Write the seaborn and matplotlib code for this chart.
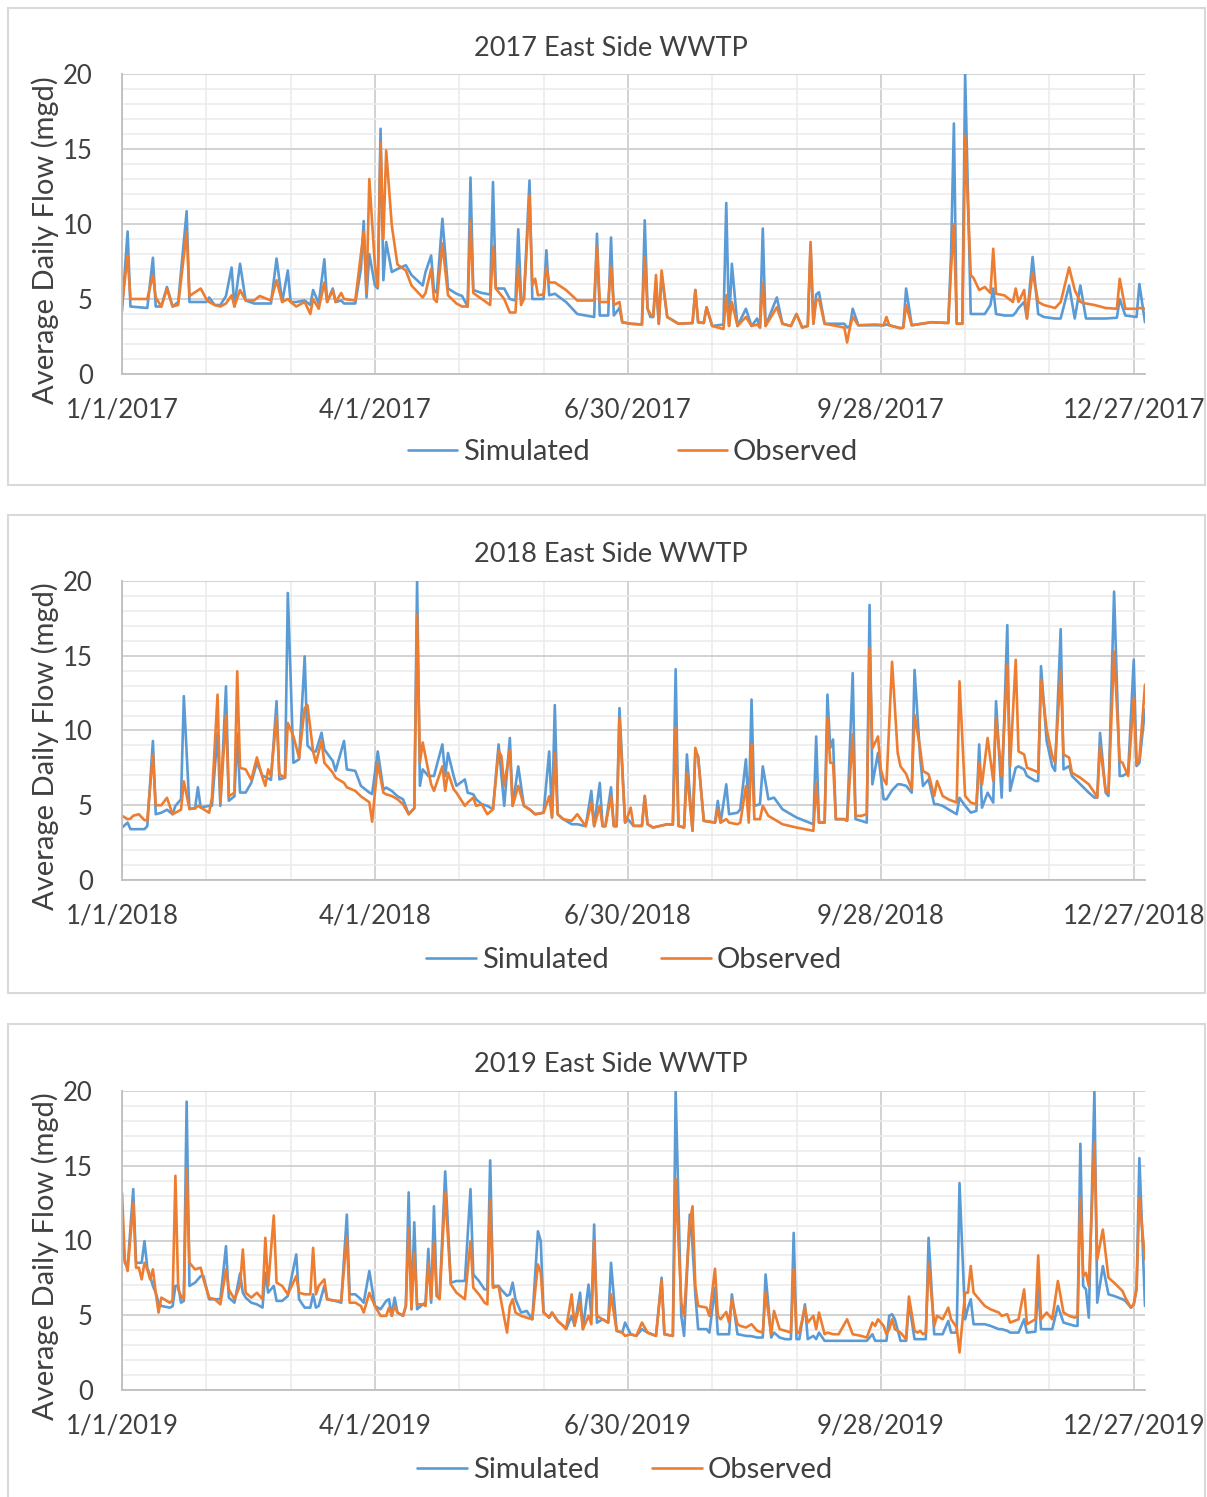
import numpy as np
import pandas as pd
import matplotlib
matplotlib.use("Agg")
import matplotlib.pyplot as plt
import seaborn as sns
from matplotlib.patches import Rectangle

# ---------------- data (day-of-year, simulated, observed) ----------------
years = [2017, 2018, 2019]
series_names = ["Simulated", "Observed"]
tick_days = [0, 90, 180, 270, 360]
tick_labels = {
    2017: ["1/1/2017", "4/1/2017", "6/30/2017", "9/28/2017", "12/27/2017"],
    2018: ["1/1/2018", "4/1/2018", "6/30/2018", "9/28/2018", "12/27/2018"],
    2019: ["1/1/2019", "4/1/2019", "6/30/2019", "9/28/2019", "12/27/2019"],
}
y_ticks = [0, 5, 10, 15, 20]

days_2017 = [0, 2, 3, 9, 11, 12, 14, 16, 18, 20, 23, 24, 28, 30, 31, 33, 35, 37, 39, 40,
             42, 44, 47, 49, 53, 55, 57, 59, 60, 62, 65, 67, 68, 70, 72, 73, 75, 76, 78, 79,
             83, 85, 86, 87, 88, 90, 91, 92, 93, 94, 96, 98, 101, 103, 107, 108, 110, 111, 112, 114,
             116, 119, 121, 123, 124, 125, 128, 131, 132, 133, 136, 138, 140, 141, 142, 143, 145, 146, 147, 148,
             150, 151, 152, 154, 158, 162, 168, 169, 170, 173, 174, 175, 177, 178, 181, 185, 186, 187, 188, 189,
             190, 191, 192, 194, 198, 203, 204, 205, 207, 208, 210, 214, 215, 216, 217, 219, 222, 224, 226, 227,
             228, 229, 233, 235, 238, 240, 242, 244, 245, 246, 247, 248, 250, 257, 258, 259, 260, 262, 268, 271,
             272, 273, 277, 278, 279, 281, 288, 294, 295, 296, 297, 299, 300, 302, 303, 305, 307, 309, 310, 311,
             314, 317, 318, 319, 321, 322, 324, 326, 328, 332, 334, 337, 339, 341, 343, 346, 350, 354, 355, 357,
             361, 362, 364]
sim_2017 = [4.2, 9.5, 4.5, 4.4, 7.75, 4.5, 4.5, 5.8, 4.5, 4.8, 10.85, 4.8, 4.8, 4.8, 5.1, 4.6, 4.6, 5.2, 7.1, 4.5,
            7.35, 4.9, 4.7, 4.7, 4.7, 7.7, 4.8, 6.9, 4.8, 4.8, 4.9, 4.6, 5.6, 4.7, 7.65, 4.8, 5.7, 4.8, 4.9, 4.7,
            4.7, 7.0, 10.2, 5.1, 8.0, 5.9, 5.7, 16.35, 6.25, 8.8, 6.8, 7.0, 7.25, 6.6, 5.9, 6.8, 7.9, 5.6, 5.4, 10.35,
            5.7, 5.35, 5.2, 4.5, 13.1, 5.6, 5.4, 5.3, 12.8, 5.7, 5.7, 5.0, 4.9, 9.65, 5.0, 5.0, 12.9, 5.0, 5.0, 5.0,
            5.0, 8.25, 5.25, 5.35, 4.8, 4.0, 3.8, 9.35, 3.9, 3.9, 9.1, 3.9, 4.4, 3.45, 3.35, 3.3, 10.25, 4.35, 3.8, 3.8,
            6.1, 3.35, 6.6, 3.8, 3.35, 3.4, 5.6, 3.45, 3.4, 4.45, 3.2, 3.3, 11.4, 3.2, 7.35, 3.2, 4.35, 3.2, 3.7, 3.1,
            9.7, 3.2, 5.1, 3.35, 3.2, 4.0, 3.1, 3.2, 8.6, 3.35, 5.3, 5.45, 3.35, 3.35, 3.1, 3.2, 4.35, 3.25, 3.25, 3.25,
            3.3, 3.25, 3.05, 3.1, 5.7, 3.25, 3.45, 3.4, 8.0, 16.7, 3.35, 3.35, 20.0, 4.0, 4.0, 4.0, 4.0, 4.6, 5.7, 4.0,
            3.9, 3.9, 4.1, 4.4, 4.8, 3.7, 7.8, 4.0, 3.8, 3.7, 3.7, 5.9, 3.7, 5.9, 3.7, 3.7, 3.7, 3.75, 5.0, 3.9,
            3.8, 6.0, 3.45]
obs_2017 = [4.6, 7.9, 5.0, 5.0, 6.6, 5.1, 4.5, 5.7, 4.5, 4.6, 9.5, 5.2, 5.7, 5.0, 4.8, 4.6, 4.5, 4.7, 5.25, 4.5,
            5.6, 4.9, 4.9, 5.2, 4.9, 6.25, 4.8, 5.0, 4.8, 4.5, 4.8, 4.0, 5.0, 4.35, 6.1, 4.8, 5.6, 4.8, 5.4, 5.0,
            4.9, 8.0, 9.5, 5.4, 13.0, 7.2, 5.8, 15.4, 9.0, 14.9, 9.9, 7.3, 6.9, 5.9, 5.1, 5.4, 7.0, 5.0, 4.8, 8.7,
            5.25, 4.7, 4.5, 4.5, 10.2, 5.4, 5.0, 4.6, 8.5, 5.7, 5.0, 4.1, 4.1, 7.2, 4.6, 5.0, 11.9, 5.9, 6.35, 5.25,
            5.3, 7.1, 6.1, 6.1, 5.6, 4.9, 4.9, 8.5, 4.8, 4.8, 7.2, 4.6, 4.8, 3.45, 3.35, 3.3, 7.8, 4.35, 4.0, 3.8,
            6.6, 3.35, 6.9, 3.8, 3.35, 3.4, 5.6, 3.45, 3.4, 4.45, 3.2, 3.0, 5.25, 3.2, 4.8, 3.2, 3.8, 3.2, 3.3, 3.1,
            6.1, 3.2, 4.45, 3.35, 3.2, 4.0, 3.1, 3.2, 8.8, 3.35, 4.9, 5.0, 3.35, 3.1, 2.1, 3.1, 3.8, 3.25, 3.3, 3.25,
            3.8, 3.25, 3.05, 3.1, 4.6, 3.25, 3.45, 3.4, 7.0, 10.0, 3.35, 3.35, 15.9, 6.6, 6.4, 5.6, 5.8, 5.4, 8.35, 5.35,
            5.24, 4.8, 5.7, 4.8, 5.6, 3.7, 6.8, 4.8, 4.6, 4.4, 4.8, 7.1, 5.6, 4.8, 4.7, 4.6, 4.4, 4.35, 6.35, 4.35,
            4.35, 4.4, 4.35]

days_2018 = [0, 2, 3, 4, 6, 8, 9, 11, 12, 14, 16, 18, 19, 21, 22, 24, 26, 27, 28, 31,
             32, 34, 35, 37, 38, 40, 41, 42, 44, 46, 48, 50, 51, 52, 53, 55, 56, 58, 59, 61,
             63, 65, 66, 68, 69, 71, 72, 75, 76, 79, 80, 83, 85, 88, 89, 91, 93, 94, 96, 98,
             100, 102, 104, 105, 106, 107, 109, 110, 111, 114, 115, 116, 118, 119, 122, 123, 125, 126, 128, 130,
             132, 134, 135, 136, 138, 139, 141, 143, 145, 147, 150, 152, 153, 154, 155, 157, 160, 162, 165, 167,
             168, 170, 171, 172, 174, 175, 176, 177, 179, 180, 181, 182, 185, 186, 187, 189, 194, 196, 197, 198,
             200, 201, 203, 204, 205, 207, 211, 212, 213, 215, 216, 219, 220, 222, 223, 224, 225, 227, 228, 230,
             232, 235, 240, 246, 247, 248, 250, 251, 252, 253, 254, 257, 258, 260, 261, 263, 265, 266, 267, 269,
             270, 271, 272, 274, 276, 277, 279, 281, 282, 284, 285, 287, 289, 290, 292, 294, 297, 298, 300, 302,
             304, 305, 306, 308, 310, 311, 313, 315, 316, 318, 319, 321, 322, 325, 326, 327, 329, 331, 332, 334,
             335, 337, 338, 341, 344, 346, 347, 348, 350, 351, 353, 355, 356, 358, 360, 361, 362, 364]
sim_2018 = [3.5, 3.84, 3.4, 3.4, 3.4, 3.4, 3.6, 9.3, 4.4, 4.5, 4.7, 4.4, 4.96, 5.4, 12.3, 4.75, 4.8, 6.2, 4.85, 4.96,
            4.96, 9.85, 4.96, 12.96, 5.3, 5.6, 9.8, 5.85, 5.85, 6.5, 7.85, 6.96, 6.9, 6.8, 6.7, 11.96, 6.73, 6.84, 19.2, 7.84,
            8.07, 14.96, 9.0, 8.6, 8.6, 9.85, 8.73, 7.96, 7.3, 9.3, 7.4, 7.3, 6.3, 5.85, 5.75, 8.6, 6.05, 6.18, 5.96, 5.6,
            5.4, 4.4, 4.8, 20.0, 6.3, 7.4, 6.96, 6.96, 6.96, 9.07, 6.96, 8.5, 6.96, 6.3, 6.73, 5.84, 5.73, 5.4, 5.07, 4.96,
            4.73, 9.07, 7.0, 4.96, 9.5, 4.96, 7.6, 4.96, 4.73, 4.4, 4.5, 8.6, 4.18, 11.7, 4.4, 4.07, 3.73, 3.73, 3.6, 5.96,
            3.6, 6.5, 3.6, 3.6, 6.2, 3.6, 3.6, 11.5, 3.84, 4.07, 3.84, 3.62, 3.62, 5.62, 3.73, 3.51, 3.73, 3.7, 14.1, 3.62,
            3.51, 8.4, 3.29, 8.5, 8.3, 3.96, 3.84, 5.29, 3.84, 6.4, 4.4, 4.5, 4.73, 8.07, 4.5, 12.07, 4.96, 5.07, 7.6, 5.4,
            5.51, 4.73, 4.18, 3.73, 9.6, 3.84, 3.84, 12.4, 8.84, 9.4, 4.07, 4.07, 3.96, 13.84, 4.07, 3.96, 3.84, 18.4, 6.4, 8.5,
            6.96, 5.4, 5.4, 6.0, 6.4, 6.4, 6.3, 5.84, 14.05, 8.2, 6.29, 6.73, 5.07, 5.07, 4.96, 4.73, 4.4, 5.5, 4.96, 4.51,
            4.62, 9.07, 4.84, 5.84, 5.18, 11.96, 5.51, 17.05, 5.96, 7.5, 7.6, 7.4, 6.96, 6.62, 6.62, 14.3, 9.3, 7.6, 7.3, 16.78,
            7.4, 7.62, 6.96, 6.4, 5.84, 5.51, 5.51, 9.84, 5.84, 5.62, 19.29, 6.96, 6.96, 7.18, 14.73, 7.62, 7.84, 11.4]
obs_2018 = [4.3, 4.07, 4.1, 4.3, 4.4, 4.0, 4.0, 8.4, 5.0, 5.0, 5.5, 4.4, 4.5, 4.7, 6.6, 4.75, 4.8, 4.96, 4.85, 4.5,
            5.5, 12.4, 5.2, 11.0, 5.6, 5.84, 13.96, 7.5, 7.4, 6.7, 8.2, 6.84, 6.3, 7.4, 6.96, 10.96, 7.07, 6.84, 10.5, 9.62,
            8.18, 11.5, 11.7, 8.6, 7.84, 9.3, 7.84, 7.18, 6.84, 6.5, 6.2, 5.96, 5.6, 5.2, 3.9, 7.8, 5.84, 5.73, 5.62, 5.4,
            5.07, 4.4, 4.8, 17.73, 7.84, 9.2, 7.3, 6.4, 5.96, 7.6, 5.96, 7.18, 6.07, 5.84, 4.96, 5.18, 5.51, 4.96, 5.07, 4.4,
            4.73, 8.62, 8.3, 6.3, 8.7, 4.96, 6.3, 4.96, 4.73, 4.4, 4.5, 5.6, 4.18, 8.5, 4.4, 4.07, 3.96, 4.4, 3.6, 5.18,
            3.6, 4.96, 3.6, 3.6, 5.6, 3.6, 3.6, 10.84, 3.84, 4.29, 4.84, 3.62, 3.62, 5.62, 3.73, 3.51, 3.73, 3.7, 10.2, 3.62,
            3.51, 7.2, 3.29, 8.84, 8.18, 3.96, 3.84, 4.73, 3.84, 4.07, 3.84, 3.73, 3.84, 6.29, 3.84, 9.07, 4.07, 4.07, 4.96, 4.29,
            4.07, 3.73, 3.51, 3.29, 6.5, 3.84, 3.84, 10.84, 7.84, 7.84, 4.07, 4.07, 3.96, 9.75, 4.29, 4.29, 4.4, 15.5, 8.8, 9.6,
            7.4, 6.73, 6.4, 14.6, 8.5, 7.6, 7.1, 6.07, 11.05, 8.8, 7.29, 7.07, 5.62, 6.62, 5.62, 5.4, 5.18, 13.29, 5.62, 5.18,
            5.07, 7.84, 6.4, 9.5, 6.62, 10.84, 6.96, 14.4, 7.6, 14.73, 8.6, 8.4, 7.51, 7.29, 7.18, 13.4, 10.1, 8.29, 7.84, 13.96,
            8.4, 8.18, 7.18, 6.84, 6.4, 5.84, 5.51, 8.96, 5.96, 5.84, 15.29, 7.96, 7.84, 6.96, 12.18, 7.73, 8.07, 13.07]

days_2019 = [0, 1, 2, 4, 5, 6, 7, 8, 9, 10, 11, 12, 13, 14, 17, 18, 19, 20, 21, 22,
             23, 24, 26, 28, 29, 31, 33, 35, 37, 38, 40, 42, 43, 44, 46, 48, 50, 51, 52, 54,
             55, 57, 59, 62, 63, 65, 67, 68, 69, 70, 72, 73, 76, 78, 80, 81, 83, 85, 86, 88,
             90, 92, 94, 95, 96, 97, 98, 100, 101, 102, 103, 104, 105, 107, 108, 109, 110, 111, 112, 113,
             115, 117, 119, 122, 124, 125, 127, 129, 130, 131, 132, 134, 135, 137, 138, 139, 140, 142, 144, 146,
             148, 149, 150, 152, 153, 155, 157, 158, 160, 161, 163, 164, 166, 167, 168, 169, 171, 173, 174, 176,
             178, 179, 181, 183, 185, 187, 190, 192, 193, 196, 197, 199, 200, 202, 203, 204, 205, 208, 209, 211,
             212, 213, 215, 216, 217, 219, 220, 222, 224, 226, 228, 229, 231, 232, 234, 236, 238, 239, 240, 241,
             243, 244, 246, 247, 248, 250, 251, 253, 255, 258, 260, 263, 265, 267, 268, 269, 271, 272, 273, 274,
             275, 277, 279, 280, 282, 283, 284, 285, 286, 287, 289, 290, 292, 294, 295, 297, 298, 300, 301, 302,
             303, 305, 307, 309, 312, 313, 315, 316, 319, 321, 322, 325, 326, 327, 329, 331, 333, 335, 337, 339,
             340, 341, 342, 343, 344, 346, 347, 349, 351, 353, 356, 357, 359, 360, 361, 362, 364]
sim_2019 = [10.96, 8.51, 8.2, 13.44, 8.51, 8.51, 8.51, 9.96, 8.18, 7.62, 6.96, 6.51, 5.84, 5.62, 5.51, 5.6, 6.96, 6.96, 5.84, 5.96,
            19.29, 6.96, 7.18, 7.62, 7.62, 6.07, 6.07, 6.07, 9.62, 6.18, 5.84, 7.8, 6.5, 6.18, 5.84, 5.73, 5.51, 7.84, 6.51, 6.96,
            5.96, 5.96, 6.29, 9.07, 6.07, 5.51, 5.51, 6.4, 5.51, 5.62, 6.96, 6.07, 5.96, 5.84, 11.73, 6.4, 6.4, 6.07, 5.84, 7.96,
            5.62, 5.4, 5.96, 6.07, 4.96, 6.18, 5.18, 4.96, 5.62, 13.22, 5.4, 11.22, 5.4, 5.73, 5.84, 9.44, 5.84, 12.29, 6.29, 6.18,
            14.62, 7.18, 7.29, 7.29, 13.44, 7.73, 7.29, 6.73, 6.73, 15.36, 6.96, 6.96, 6.7, 6.3, 6.4, 7.18, 6.07, 5.18, 5.29, 4.73,
            10.62, 9.96, 5.18, 4.84, 5.18, 4.62, 4.29, 4.07, 4.96, 4.3, 6.51, 4.07, 7.05, 4.9, 11.07, 4.5, 4.73, 4.51, 8.51, 3.96,
            3.84, 4.51, 3.73, 3.62, 4.07, 3.84, 3.62, 7.51, 3.73, 3.62, 20.0, 4.96, 3.62, 11.73, 9.62, 6.4, 4.07, 4.07, 3.84, 6.84,
            3.73, 3.73, 3.73, 3.73, 6.4, 3.73, 3.7, 3.62, 3.6, 3.51, 3.51, 7.73, 3.51, 3.84, 3.51, 3.4, 3.4, 10.51, 3.4, 3.4,
            5.73, 3.4, 3.62, 3.4, 3.84, 3.29, 3.29, 3.29, 3.29, 3.29, 3.29, 3.29, 3.29, 3.73, 3.29, 3.29, 3.29, 3.29, 4.96, 5.07,
            4.73, 3.29, 3.29, 5.84, 3.4, 3.4, 3.4, 3.4, 3.4, 10.18, 3.73, 3.73, 3.73, 4.62, 3.84, 3.84, 13.84, 4.73, 5.5, 6.07,
            4.4, 4.4, 4.4, 4.29, 4.07, 4.07, 3.96, 3.84, 3.84, 4.73, 3.84, 3.9, 6.96, 4.07, 4.07, 4.07, 5.62, 4.51, 4.4, 4.29,
            4.29, 16.47, 6.96, 6.73, 4.84, 20.0, 5.84, 8.29, 6.4, 6.29, 6.07, 5.96, 5.51, 5.73, 6.73, 15.51, 5.62]
obs_2019 = [13.18, 8.73, 7.96, 12.51, 8.18, 8.18, 7.4, 8.51, 8.07, 7.4, 8.07, 6.51, 5.18, 6.18, 5.84, 6.0, 14.33, 6.73, 6.29, 6.07,
            14.84, 8.51, 8.07, 8.18, 7.4, 6.18, 6.07, 5.73, 8.07, 6.73, 6.07, 7.0, 9.4, 6.51, 6.18, 6.51, 6.07, 10.18, 6.96, 11.67,
            7.18, 6.96, 6.4, 7.62, 6.51, 6.4, 6.4, 9.51, 6.4, 6.96, 7.4, 6.07, 5.96, 5.96, 10.29, 5.84, 5.84, 5.62, 5.18, 6.5,
            5.62, 4.96, 4.96, 5.51, 4.96, 5.62, 5.18, 4.96, 5.62, 10.84, 5.4, 9.18, 5.73, 5.73, 5.62, 8.51, 6.07, 9.84, 6.29, 6.07,
            13.22, 7.07, 6.51, 6.07, 9.96, 6.84, 6.4, 5.84, 5.73, 12.73, 6.84, 6.96, 5.84, 3.84, 5.62, 6.07, 5.18, 4.96, 4.84, 4.73,
            8.4, 7.84, 5.18, 4.84, 5.18, 4.62, 4.29, 4.07, 6.4, 4.3, 5.84, 4.07, 4.96, 4.4, 9.96, 4.96, 4.73, 4.51, 6.4, 3.96,
            3.84, 3.62, 3.73, 3.62, 4.51, 3.84, 3.62, 7.29, 3.73, 3.62, 14.11, 5.84, 4.96, 11.18, 12.29, 6.96, 5.62, 5.51, 4.96, 8.11,
            4.96, 4.73, 5.22, 4.51, 6.07, 4.4, 4.29, 4.18, 4.4, 3.96, 3.84, 6.51, 3.73, 5.29, 4.07, 3.96, 3.84, 8.07, 3.84, 3.84,
            5.51, 4.51, 4.96, 4.07, 5.18, 3.73, 3.84, 3.73, 3.73, 4.73, 3.73, 3.62, 3.51, 4.51, 4.29, 4.73, 4.29, 3.73, 4.07, 4.73,
            4.07, 3.84, 3.4, 6.25, 3.96, 3.84, 3.96, 3.73, 3.84, 8.51, 4.29, 4.96, 4.73, 5.51, 4.73, 4.18, 2.51, 6.51, 6.51, 8.29,
            6.51, 6.07, 5.62, 5.4, 5.18, 4.96, 5.07, 4.51, 4.73, 6.73, 4.4, 4.73, 9.0, 4.73, 5.18, 4.73, 7.29, 5.18, 4.96, 4.84,
            4.96, 12.84, 7.62, 7.84, 6.96, 16.56, 8.73, 10.73, 7.51, 7.18, 6.62, 6.18, 5.51, 5.73, 6.84, 12.84, 8.73]

panel_data = {
    2017: (days_2017, sim_2017, obs_2017),
    2018: (days_2018, sim_2018, obs_2018),
    2019: (days_2019, sim_2019, obs_2019),
}

# ---------------- styling ----------------
sns.set_theme(style="white")
plt.rcParams["font.family"] = ["Lato", "DejaVu Sans"]
TXT = "#404040"
BLUE = "#5B9BD5"
ORANGE = "#ED7D31"
palette = {"Simulated": BLUE, "Observed": ORANGE}

W, H = 1207, 1497
fig = plt.figure(figsize=(W / 100, H / 100), dpi=100)
fig.patch.set_facecolor("white")

# panel layout in pixels: (box_top, box_bottom, axes_top, axes_bottom, title_y, legend_y, legend_x, colspacing)
layout = {
    2017: (8, 485, 74, 374, 48, 452, 633, 3.0),
    2018: (515, 993, 581, 880, 555, 960, 634, 1.8),
    2019: (1024, 1510, 1091, 1390, 1065, 1470, 625, 1.8),
}
AX_L, AX_R = 122, 1145

for year in years:
    days, sim, obs = panel_data[year]
    box_top, box_bot, ax_top, ax_bot, title_y, leg_y, leg_x, colsp = layout[year]

    # chart-area frame
    fig.add_artist(Rectangle((8 / W, 1 - box_bot / H), 1197 / W, (box_bot - box_top) / H,
                             transform=fig.transFigure, fill=False,
                             edgecolor="#d9d9d9", lw=1.5))

    ax = fig.add_axes([AX_L / W, 1 - ax_bot / H, (AX_R - AX_L) / W, (ax_bot - ax_top) / H])
    start = pd.Timestamp(year=year, month=1, day=1)
    dates = start + pd.to_timedelta(np.array(days), unit="D")
    df = pd.DataFrame({
        "date": np.concatenate([dates, dates]),
        "flow": np.concatenate([sim, obs]),
        "series": ["Simulated"] * len(days) + ["Observed"] * len(days),
    })
    sns.lineplot(data=df, x="date", y="flow", hue="series", hue_order=series_names,
                 palette=palette, estimator=None, lw=1.9, ax=ax, legend=False)

    ax.set_xlim(start, start + pd.Timedelta(days=364))
    ax.set_ylim(0, 20)
    ax.set_yticks(y_ticks)
    ax.set_yticks(np.arange(0, 21, 1), minor=True)
    maj = [start + pd.Timedelta(days=d) for d in tick_days]
    mnr = [start + pd.Timedelta(days=d) for d in range(30, 361, 30) if d not in tick_days]
    ax.set_xticks(maj)
    ax.set_xticklabels(tick_labels[year])
    ax.set_xticks(mnr, minor=True)
    ax.grid(which="major", color="#cfcfcf", lw=1.3)
    ax.grid(which="minor", color="#ebebeb", lw=1.1)
    ax.set_axisbelow(True)
    for s in ["top", "right"]:
        ax.spines[s].set_visible(False)
    for s in ["left", "bottom"]:
        ax.spines[s].set_color("#bfbfbf")
        ax.spines[s].set_linewidth(1.3)
    ax.tick_params(axis="both", which="both", length=0, labelsize=18.5, labelcolor=TXT)
    ax.tick_params(axis="y", pad=21)
    ax.tick_params(axis="x", pad=17)
    ax.set_xlabel("")
    ax.set_ylabel("Average Daily Flow (mgd)", fontsize=21, color=TXT)
    ax.yaxis.set_label_coords(-0.062, (ax_bot - (ax_top + ax_bot + 32) / 2) / (ax_bot - ax_top))

    fig.text(611 / W, 1 - title_y / H, f"{year} East Side WWTP", ha="center", va="center",
             fontsize=19.5, color=TXT)

    handles = [plt.Line2D([], [], color=palette[n], lw=1.9) for n in series_names]
    fig.legend(handles, series_names, loc="center", bbox_to_anchor=(leg_x / W, 1 - leg_y / H),
               ncol=2, frameon=False, fontsize=21, labelcolor=TXT, handlelength=1.7,
               handletextpad=0.2, columnspacing=colsp)

fig.savefig("out.png", dpi=100, facecolor="white")
